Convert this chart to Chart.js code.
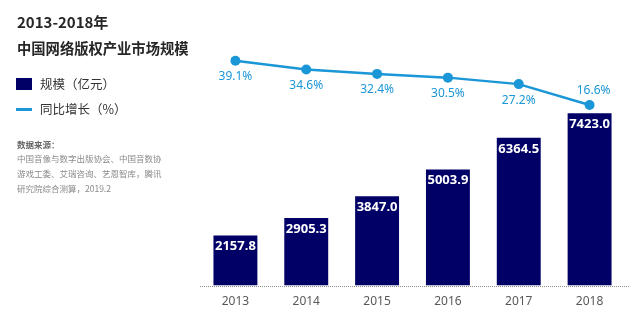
<!DOCTYPE html>
<html><head><meta charset="utf-8">
<script src="https://cdn.jsdelivr.net/npm/chart.js@4"></script>
<style>
html,body{margin:0;padding:0;background:#fff;}
#wrap{position:relative;width:630px;height:332px;overflow:hidden;font-family:"Noto Sans CJK SC","Noto Sans",sans-serif;}
#c{position:absolute;left:0;top:0;}
.t{position:absolute;left:17px;font-weight:bold;color:#262626;font-size:15px;line-height:20px;white-space:nowrap;}
.lg{position:absolute;left:40px;font-size:12.5px;line-height:18px;color:#333;white-space:nowrap;}
.sq{position:absolute;left:16px;top:78px;width:16px;height:12px;background:#000066;}
.ln{position:absolute;left:16px;top:108px;width:16px;height:3px;background:#1b96d6;}
.src{position:absolute;left:17px;font-size:8.5px;line-height:12px;color:#8a8a8a;white-space:nowrap;}
.srcb{font-weight:bold;color:#666;}
</style></head>
<body>
<div id="wrap">
<canvas id="c" width="630" height="332"></canvas>
<div class="t" style="top:12px">2013-2018年</div>
<div class="t" style="top:38px;font-size:14.3px">中国网络版权产业市场规模</div>
<div class="sq"></div>
<div class="lg" style="top:75px">规模（亿元）</div>
<div class="ln"></div>
<div class="lg" style="top:100px">同比增长（%）</div>
<div class="src srcb" style="top:138px">数据来源：</div>
<div class="src" style="top:152px">中国音像与数字出版协会、中国音数协</div>
<div class="src" style="top:167px">游戏工委、艾瑞咨询、艺恩智库，腾讯</div>
<div class="src" style="top:182px">研究院综合测算，2019.2</div>
</div>
<script>
const years = ['2013','2014','2015','2016','2017','2018'];
const scaleValues = [2157.8, 2905.3, 3847.0, 5003.9, 6364.5, 7423.0];
const growthValues = [39.1, 34.6, 32.4, 30.5, 27.2, 16.6];

const BAR_COLOR = '#000066';
const LINE_COLOR = '#1b96d6';

const labelPlugin = {
  id: 'labels',
  beforeDatasetsDraw(chart) {
    const ctx = chart.ctx, a = chart.chartArea;
    ctx.save();
    ctx.strokeStyle = '#8c8c8c';
    ctx.lineWidth = 1;
    ctx.setLineDash([1, 1]);
    ctx.beginPath();
    ctx.moveTo(200, Math.round(a.bottom) + 0.5);
    ctx.lineTo(630, Math.round(a.bottom) + 0.5);
    ctx.stroke();
    ctx.restore();
  },
  afterDatasetsDraw(chart) {
    const ctx = chart.ctx;
    ctx.save();
    ctx.textAlign = 'center';
    ctx.textBaseline = 'middle';
    const bm = chart.getDatasetMeta(0);
    ctx.font = 'bold 13px "Noto Sans", sans-serif';
    ctx.fillStyle = '#ffffff';
    bm.data.forEach((el, i) => {
      ctx.fillText(scaleValues[i].toFixed(1), el.x, el.y + 11);
    });
    const lm = chart.getDatasetMeta(1);
    ctx.font = '12px "Noto Sans", sans-serif';
    ctx.fillStyle = LINE_COLOR;
    lm.data.forEach((el, i) => {
      const last = i === lm.data.length - 1;
      ctx.fillText(growthValues[i].toFixed(1) + '%', el.x + (last ? 4 : 0), last ? el.y - 14 : el.y + 16);
    });
    ctx.restore();
  }
};

new Chart(document.getElementById('c'), {
  data: {
    labels: years,
    datasets: [
      { type: 'bar', data: scaleValues, backgroundColor: BAR_COLOR, yAxisID: 'y',
        barPercentage: 0.62, categoryPercentage: 1, order: 1 },
      { type: 'line', data: growthValues, borderColor: LINE_COLOR, backgroundColor: LINE_COLOR,
        borderWidth: 2.5, pointRadius: 5, pointBorderWidth: 0, pointBackgroundColor: LINE_COLOR,
        tension: 0, yAxisID: 'y1', order: 0 }
    ]
  },
  options: {
    responsive: false,
    animation: false,
    devicePixelRatio: 1,
    layout: { padding: { left: 200, right: 1, top: 40, bottom: 16.5 } },
    plugins: { legend: { display: false }, tooltip: { enabled: false } },
    scales: {
      x: {
        grid: { display: false, drawTicks: false },
        border: { display: false },
        ticks: { color: '#595959', font: { family: '"Noto Sans", sans-serif', size: 12 }, padding: 9 },
        afterFit: s => { s.height = 30; }
      },
      y: { display: false, min: 0, max: 10582 },
      y1: { display: false, min: -75.18, max: 49.63 }
    }
  },
  plugins: [labelPlugin]
});
</script>
</body></html>
